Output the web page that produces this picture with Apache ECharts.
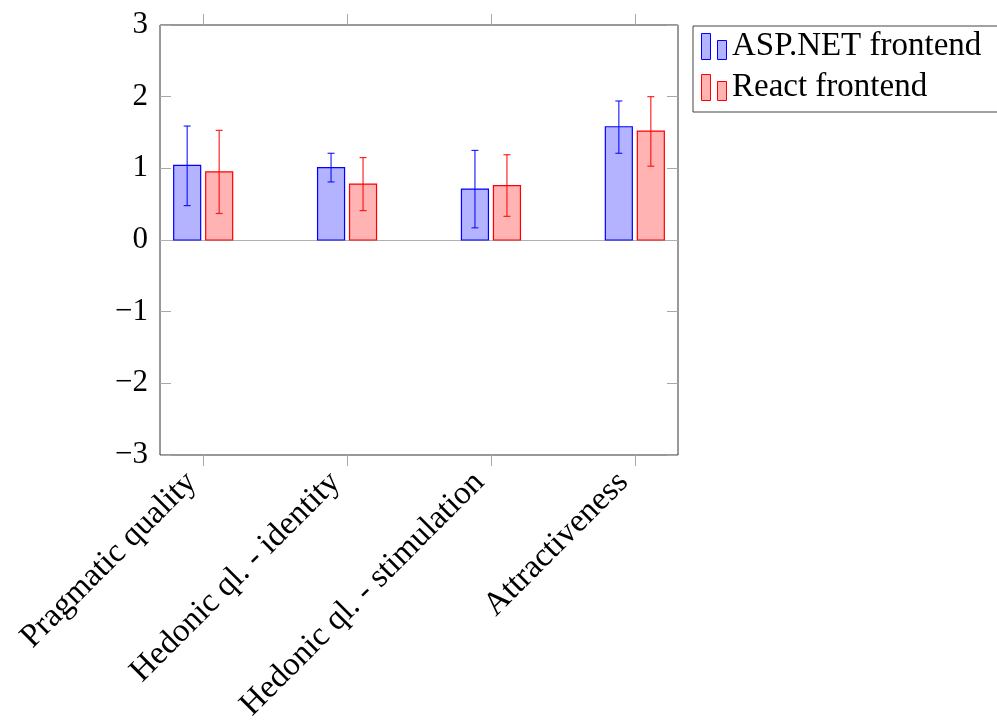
<!DOCTYPE html>
<html>
<head>
<meta charset="utf-8">
<script src="https://cdn.jsdelivr.net/npm/echarts@6/dist/echarts.min.js"></script>
<style>html,body{margin:0;padding:0;background:#fff;}#chart{width:997px;height:720px;}</style>
</head>
<body>
<div id="chart"></div>
<script>
const categories = ['Pragmatic quality', 'Hedonic ql. - identity', 'Hedonic ql. - stimulation', 'Attractiveness'];
const yTicks = [-3, -2, -1, 0, 1, 2, 3];
const aspMean = [1.04, 1.01, 0.71, 1.58];
const aspLow = [0.48, 0.81, 0.17, 1.21];
const aspHigh = [1.59, 1.21, 1.25, 1.94];
const reactMean = [0.95, 0.78, 0.76, 1.52];
const reactLow = [0.37, 0.41, 0.33, 1.03];
const reactHigh = [1.53, 1.15, 1.19, 2.00];

const FONT = 'Liberation Serif';
const catIdx = categories.map((c, i) => i);

function makeData(mean, lo, hi) {
  return catIdx.map(i => [i, mean[i], lo[i], hi[i]]);
}

function makeRender(offset, fill, stroke, errColor) {
  return function (params, api) {
    const x = api.value(0), v = api.value(1), lo = api.value(2), hi = api.value(3);
    const base = api.coord([x, 0]);
    const top = api.coord([x, v]);
    const pl = api.coord([x, lo]);
    const ph = api.coord([x, hi]);
    const cx = base[0] + offset;
    const w = 27, cap = 3.5;
    return {
      type: 'group',
      children: [
        { type: 'rect', shape: { x: cx - w / 2, y: Math.min(top[1], base[1]), width: w, height: Math.abs(base[1] - top[1]) },
          style: { fill: fill, stroke: stroke, lineWidth: 1.2 } },
        { type: 'line', shape: { x1: cx, y1: ph[1], x2: cx, y2: pl[1] }, style: { stroke: errColor, lineWidth: 1.2 } },
        { type: 'line', shape: { x1: cx - cap, y1: ph[1], x2: cx + cap, y2: ph[1] }, style: { stroke: errColor, lineWidth: 1.2 } },
        { type: 'line', shape: { x1: cx - cap, y1: pl[1], x2: cx + cap, y2: pl[1] }, style: { stroke: errColor, lineWidth: 1.2 } }
      ]
    };
  };
}

const tickStyle = { color: '#a8a8a8', width: 1 };
const chart = echarts.init(document.getElementById('chart'), null, { renderer: 'canvas' });
chart.setOption({
  animation: false,
  backgroundColor: '#fff',
  grid: { left: 160, right: 319, top: 25, bottom: 265, show: true, borderColor: '#333', borderWidth: 1, backgroundColor: 'transparent',
    containLabel: false, outerBoundsMode: 'none' },
  legend: {
    orient: 'vertical', left: 693, top: 26,
    padding: [4, 40, 8, 8],
    itemGap: 8, itemWidth: 26, itemHeight: 26,
    borderColor: '#444', borderWidth: 1, borderRadius: 0,
    icon: 'path://M0,0H9V26H0Z M16,7H25V26H16Z',
    textStyle: { fontFamily: FONT, fontSize: 33, color: '#000' },
    data: [
      { name: 'ASP.NET frontend', itemStyle: { color: '#b3b3ff', borderColor: '#0000ff', borderWidth: 1 } },
      { name: 'React frontend', itemStyle: { color: '#ffb3b3', borderColor: '#ff0000', borderWidth: 1 } }
    ]
  },
  xAxis: [
    {
      type: 'value', position: 'bottom', min: -0.3, max: 3.3,
      axisLine: { show: false, onZero: false }, splitLine: { show: false },
      axisTick: { show: true, inside: false, length: 11, lineStyle: tickStyle, customValues: catIdx },
      axisLabel: { show: true, customValues: catIdx, rotate: 45, margin: 34, verticalAlign: 'bottom', fontFamily: FONT, fontSize: 33, color: '#000',
        formatter: v => categories[Math.round(v)] }
    },
    {
      type: 'value', position: 'top', min: -0.3, max: 3.3,
      axisLine: { show: false, onZero: false }, splitLine: { show: false },
      axisTick: { show: true, inside: false, length: 11, lineStyle: tickStyle, customValues: catIdx },
      axisLabel: { show: false }
    }
  ],
  yAxis: [
    {
      type: 'value', position: 'left', min: yTicks[0], max: yTicks[yTicks.length - 1], interval: 1,
      axisLine: { show: false, onZero: false }, splitLine: { show: false },
      axisTick: { show: true, inside: true, length: 11, lineStyle: tickStyle },
      axisLabel: { fontFamily: FONT, fontSize: 31, color: '#000', margin: 12,
        formatter: v => String(v).replace('-', '\u2212') }
    },
    {
      type: 'value', position: 'right', min: yTicks[0], max: yTicks[yTicks.length - 1], interval: 1,
      axisLine: { show: false, onZero: false }, splitLine: { show: false },
      axisTick: { show: true, inside: true, length: 11, lineStyle: tickStyle },
      axisLabel: { show: false }
    }
  ],
  series: [
    {
      name: 'ASP.NET frontend', type: 'custom', xAxisIndex: 0, yAxisIndex: 0,
      itemStyle: { color: '#b3b3ff', borderColor: '#0000ff' },
      renderItem: makeRender(-16, '#b3b3ff', '#0000ff', 'rgba(0,0,255,0.85)'),
      encode: { x: 0, y: [1, 2, 3] },
      data: makeData(aspMean, aspLow, aspHigh),
      markLine: { silent: true, symbol: 'none', z: 1, label: { show: false },
        lineStyle: { color: '#b0b0b0', width: 1, type: 'solid' }, data: [{ yAxis: 0 }] }
    },
    {
      name: 'React frontend', type: 'custom', xAxisIndex: 0, yAxisIndex: 0,
      itemStyle: { color: '#ffb3b3', borderColor: '#ff0000' },
      renderItem: makeRender(16, '#ffb3b3', '#ff0000', 'rgba(255,0,0,0.85)'),
      encode: { x: 0, y: [1, 2, 3] },
      data: makeData(reactMean, reactLow, reactHigh)
    }
  ]
});
</script>
</body>
</html>
